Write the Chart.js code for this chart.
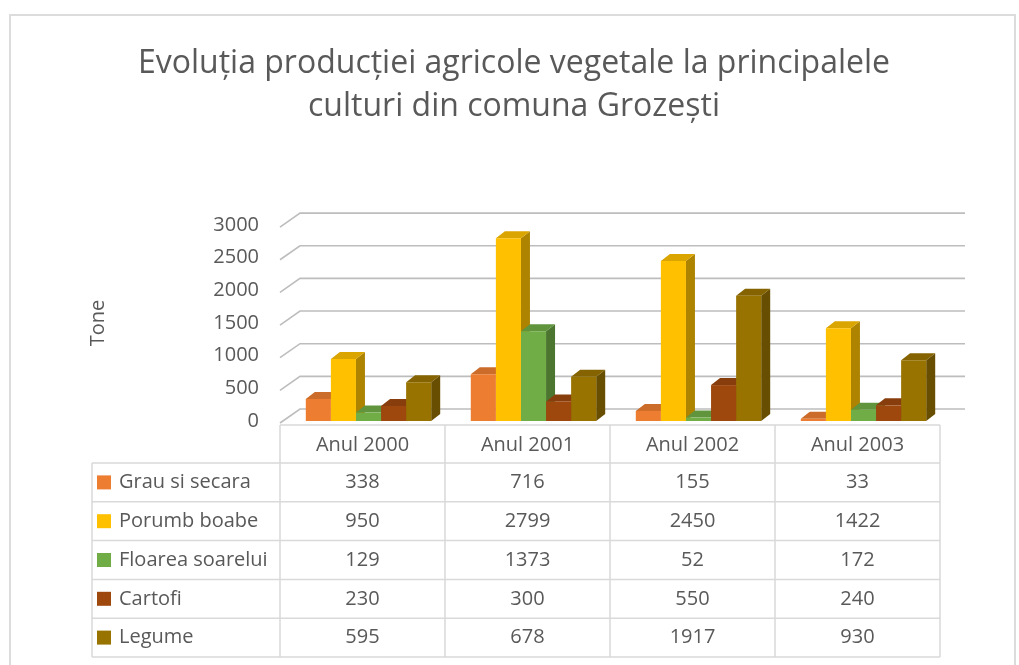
<!DOCTYPE html>
<html>
<head>
<meta charset="utf-8">
<script src="https://cdn.jsdelivr.net/npm/chart.js@4"></script>
<style>
  html, body { margin: 0; padding: 0; background: #fff; }
  #wrap { width: 1019px; height: 665px; position: relative; }
</style>
</head>
<body>
<div id="wrap"><canvas id="chart" width="1019" height="665"></canvas></div>
<script>
const categories = ['Anul 2000', 'Anul 2001', 'Anul 2002', 'Anul 2003'];
const seriesNames = ['Grau si secara', 'Porumb boabe', 'Floarea soarelui', 'Cartofi', 'Legume'];
const grauSiSecara = [338, 716, 155, 33];
const porumbBoabe = [950, 2799, 2450, 1422];
const floareaSoarelui = [129, 1373, 52, 172];
const cartofi = [230, 300, 550, 240];
const legume = [595, 678, 1917, 930];
const yMax = 3000;
const yStep = 500;

const seriesValues = [grauSiSecara, porumbBoabe, floareaSoarelui, cartofi, legume];
const seriesColors = ['#ED7D31', '#FFC000', '#70AD47', '#9E480E', '#997300'];

const FONT = "'Open Sans', 'Noto Sans', sans-serif";
const TEXT = '#595959';
const LINE = '#d9d9d9';
const depth = { x: 9, y: 7 };   // bar depth
const wall = { x: 20, y: 12 };  // back wall offset
const tableShift = -6;

function shade(hex, f) {
    const n = parseInt(hex.slice(1), 16);
    const r = Math.round(((n >> 16) & 255) * f);
    const g = Math.round(((n >> 8) & 255) * f);
    const b = Math.round((n & 255) * f);
    return `rgb(${r},${g},${b})`;
}

// back wall gridlines + side/top faces of the bars
const threeD = {
    id: 'threeD',
    beforeDatasetsDraw(chart) {
        const ctx = chart.ctx;
        const a = chart.chartArea;
        const y = chart.scales.y;
        ctx.save();
        ctx.strokeStyle = '#bdbdbd';
        ctx.lineWidth = 1.6;
        y.ticks.forEach(t => {
            const py = y.getPixelForValue(t.value);
            ctx.beginPath();
            ctx.moveTo(a.left + tableShift, py + 2);
            ctx.lineTo(a.left + tableShift + wall.x, py - wall.y);
            ctx.lineTo(a.right + wall.x - 1, py - wall.y);
            ctx.stroke();
        });
        for (let i = 0; i < categories.length; i++) {
            chart.data.datasets.forEach((ds, d) => {
                const bar = chart.getDatasetMeta(d).data[i];
                const p = bar.getProps(['x', 'y', 'base', 'width'], true);
                const l = p.x - p.width / 2, r = p.x + p.width / 2;
                ctx.fillStyle = shade(ds.backgroundColor, 0.68);
                ctx.beginPath();
                ctx.moveTo(r, p.base);
                ctx.lineTo(r + depth.x, p.base - depth.y);
                ctx.lineTo(r + depth.x, p.y - depth.y);
                ctx.lineTo(r, p.y);
                ctx.closePath();
                ctx.fill();
                ctx.fillStyle = shade(ds.backgroundColor, 0.86);
                ctx.beginPath();
                ctx.moveTo(l, p.y);
                ctx.lineTo(l + depth.x, p.y - depth.y);
                ctx.lineTo(r + depth.x, p.y - depth.y);
                ctx.lineTo(r, p.y);
                ctx.closePath();
                ctx.fill();
            });
        }
        ctx.restore();
    }
};

// data table under the plot, plus the outer frame
const dataTable = {
    id: 'dataTable',
    afterDraw(chart) {
        const ctx = chart.ctx;
        const a = chart.chartArea;
        const colW = (a.right - a.left) / categories.length;
        const x0 = a.left + tableShift;
        const x1 = x0 + colW * categories.length;
        const legendX = 92;
        const headTop = 425, rowTop = 463, rowH = 38.8;
        const bottom = rowTop + rowH * seriesNames.length;

        ctx.save();
        // frame
        ctx.strokeStyle = '#dcdcdc';
        ctx.lineWidth = 2;
        ctx.strokeRect(10, 15, 1005, 700);

        ctx.strokeStyle = LINE;
        ctx.lineWidth = 1.5;
        ctx.beginPath();
        ctx.moveTo(x0, headTop); ctx.lineTo(x1, headTop);
        for (let r = 0; r <= seriesNames.length; r++) {
            const yy = rowTop + r * rowH;
            ctx.moveTo(legendX, yy); ctx.lineTo(x1, yy);
        }
        ctx.moveTo(legendX, rowTop); ctx.lineTo(legendX, bottom);
        for (let c = 0; c <= categories.length; c++) {
            const xx = x0 + c * colW;
            ctx.moveTo(xx, headTop); ctx.lineTo(xx, bottom);
        }
        ctx.stroke();

        ctx.fillStyle = TEXT;
        ctx.font = `20px ${FONT}`;
        ctx.textAlign = 'center';
        ctx.textBaseline = 'middle';
        categories.forEach((c, i) => {
            ctx.fillText(c, x0 + colW * (i + 0.5), (headTop + rowTop) / 2 + 1);
        });
        seriesNames.forEach((name, r) => {
            const cy = rowTop + rowH * (r + 0.5);
            ctx.fillStyle = seriesColors[r];
            ctx.fillRect(legendX + 5, cy - 7, 14, 14);
            ctx.fillStyle = TEXT;
            ctx.textAlign = 'left';
            ctx.fillText(name, legendX + 27, cy);
            ctx.textAlign = 'center';
            seriesValues[r].forEach((v, i) => {
                ctx.fillText(String(v), x0 + colW * (i + 0.5), cy);
            });
        });
        ctx.restore();
    }
};

const ctx = document.getElementById('chart').getContext('2d');
const chart = new Chart(ctx, {
    type: 'bar',
    data: {
        labels: categories,
        datasets: seriesNames.map((name, i) => ({
            label: name,
            data: seriesValues[i],
            backgroundColor: seriesColors[i],
            borderWidth: 0,
            categoryPercentage: 0.76,
            barPercentage: 1
        }))
    },
    options: {
        responsive: false,
        animation: false,
        layout: { padding: { left: 82, right: 73, top: 20, bottom: 244 } },
        plugins: {
            legend: { display: false },
            tooltip: { enabled: false },
            title: {
                display: true,
                text: ['Evoluția producției agricole vegetale la principalele', 'culturi din comuna Grozești'],
                color: TEXT,
                font: { family: FONT, size: 32, weight: 'normal', lineHeight: 1.33 },
                padding: { top: 23, bottom: 97 }
            }
        },
        scales: {
            x: { display: false },
            y: {
                min: 0,
                max: yMax,
                afterFit(scale) { scale.width = 204; },
                ticks: {
                    stepSize: yStep,
                    color: TEXT,
                    font: { family: FONT, size: 20 },
                    padding: 27,
                    callback: v => String(v)
                },
                grid: { display: false, drawTicks: false },
                border: { display: false },
                title: { display: true, text: 'Tone', color: TEXT, font: { family: FONT, size: 20 } }
            }
        }
    },
    plugins: [threeD, dataTable]
});
</script>
</body>
</html>
